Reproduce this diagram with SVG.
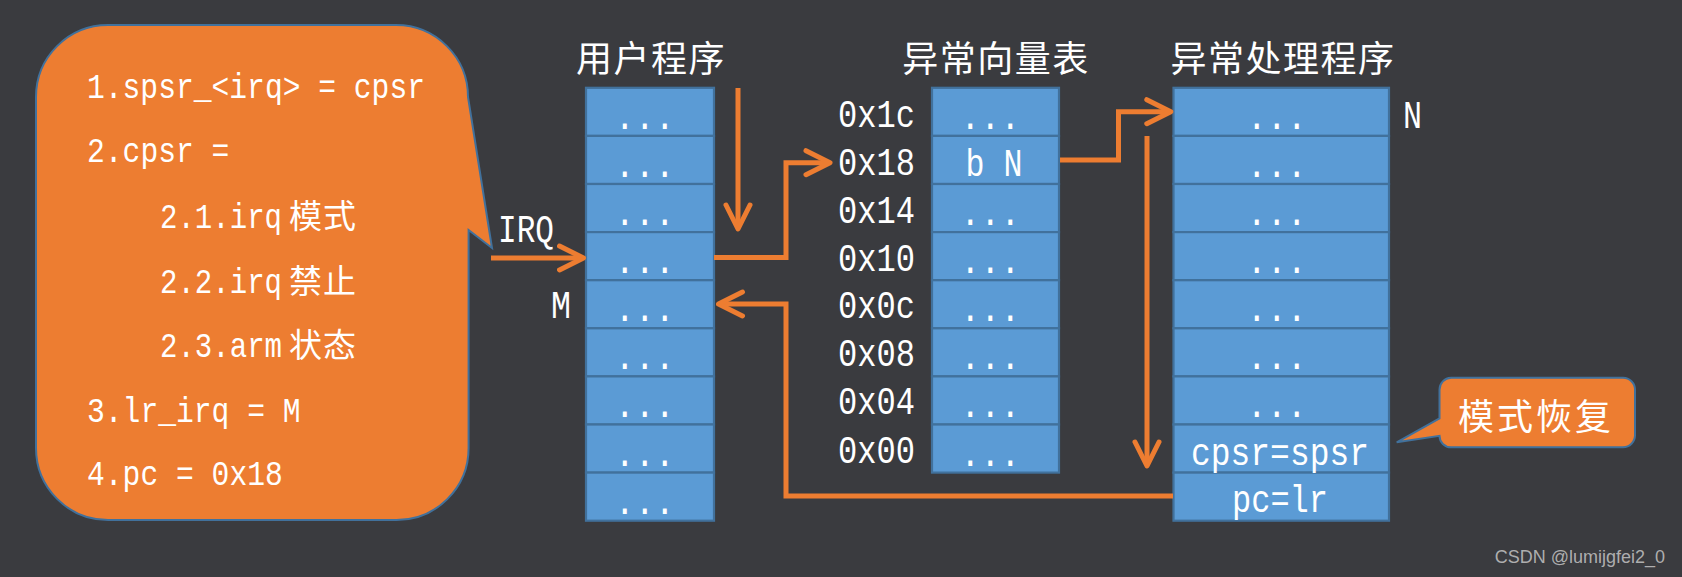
<svg xmlns="http://www.w3.org/2000/svg" width="1682" height="577" viewBox="0 0 1682 577">
<defs>
<style>
.bg{fill:#3a3b3f}
.cell{fill:#5b9bd5;stroke:#41719c;stroke-width:2.2}
.mono{font-family:"Liberation Mono","DejaVu Sans Mono",monospace;fill:#ffffff}
.b{font-size:35px}
.l{font-size:38px}
.d{font-size:36px}
.cjk{font-family:"Noto Sans CJK SC","Noto Sans",sans-serif;fill:#ffffff}
.ttl{font-size:36px;letter-spacing:1.5px}
.sub{font-size:33px;letter-spacing:1px}
.conn{fill:none;stroke:#ed7d31;stroke-width:5;stroke-linejoin:miter}
.callout{fill:#ed7d31;stroke:#41719c;stroke-width:2}
</style>
<marker id="ah" viewBox="0 0 30 30" markerWidth="30" markerHeight="30" markerUnits="userSpaceOnUse" refX="24" refY="15" orient="auto">
<path d="M3 3 L27 15 L3 27" fill="none" stroke="#ed7d31" stroke-width="5" stroke-linecap="round" stroke-linejoin="round"/>
</marker>
</defs>
<rect class="bg" x="0" y="0" width="1682" height="577"/>

<g id="bubble">
<path class="callout" d="M108 25 H396 A72 72 0 0 1 468 97 L492 248 L468.6 230 V448 A72 72 0 0 1 396 520 H108 A72 72 0 0 1 36 448 V97 A72 72 0 0 1 108 25 Z"/>
<text class="mono b" x="87" y="98" textLength="338" lengthAdjust="spacingAndGlyphs">1.spsr_&lt;irq&gt; = cpsr</text>
<text class="mono b" x="87" y="162" textLength="142.4" lengthAdjust="spacingAndGlyphs">2.cpsr =</text>
<text class="mono b" transform="translate(160 228) scale(0.83 1)">2.1.irq</text>
<text class="cjk sub" x="289" y="228">模式</text>
<text class="mono b" transform="translate(160 293) scale(0.83 1)">2.2.irq</text>
<text class="cjk sub" x="289" y="293">禁止</text>
<text class="mono b" transform="translate(160 357) scale(0.83 1)">2.3.arm</text>
<text class="cjk sub" x="289" y="357">状态</text>
<text class="mono b" x="87" y="422" textLength="213.6" lengthAdjust="spacingAndGlyphs">3.lr_irq = M</text>
<text class="mono b" x="87" y="485" textLength="195.8" lengthAdjust="spacingAndGlyphs">4.pc = 0x18</text>
</g>

<g id="user-program">
<text class="cjk ttl" x="651" y="72" text-anchor="middle">用户程序</text>
<rect class="cell" x="586" y="87.8" width="128" height="48.1"/>
<rect class="cell" x="586" y="135.9" width="128" height="48.1"/>
<rect class="cell" x="586" y="184" width="128" height="48.1"/>
<rect class="cell" x="586" y="232.1" width="128" height="48.1"/>
<rect class="cell" x="586" y="280.2" width="128" height="48.1"/>
<rect class="cell" x="586" y="328.3" width="128" height="48.1"/>
<rect class="cell" x="586" y="376.4" width="128" height="48.1"/>
<rect class="cell" x="586" y="424.5" width="128" height="48.1"/>
<rect class="cell" x="586" y="472.6" width="128" height="48.1"/>
<text class="mono d" x="614.7" y="128.8" textLength="60" lengthAdjust="spacingAndGlyphs">...</text>
<text class="mono d" x="614.7" y="176.9" textLength="60" lengthAdjust="spacingAndGlyphs">...</text>
<text class="mono d" x="614.7" y="225" textLength="60" lengthAdjust="spacingAndGlyphs">...</text>
<text class="mono d" x="614.7" y="273.1" textLength="60" lengthAdjust="spacingAndGlyphs">...</text>
<text class="mono d" x="614.7" y="321.2" textLength="60" lengthAdjust="spacingAndGlyphs">...</text>
<text class="mono d" x="614.7" y="369.3" textLength="60" lengthAdjust="spacingAndGlyphs">...</text>
<text class="mono d" x="614.7" y="417.4" textLength="60" lengthAdjust="spacingAndGlyphs">...</text>
<text class="mono d" x="614.7" y="465.5" textLength="60" lengthAdjust="spacingAndGlyphs">...</text>
<text class="mono d" x="614.7" y="513.6" textLength="60" lengthAdjust="spacingAndGlyphs">...</text>
<text class="mono l" x="498" y="241.5" textLength="56" lengthAdjust="spacingAndGlyphs">IRQ</text>
<text class="mono l" x="551" y="318.3" textLength="20" lengthAdjust="spacingAndGlyphs">M</text>
</g>

<g id="vector-table">
<text class="cjk ttl" x="996" y="72" text-anchor="middle">异常向量表</text>
<rect class="cell" x="932" y="87.8" width="127" height="48.1"/>
<rect class="cell" x="932" y="135.9" width="127" height="48.1"/>
<rect class="cell" x="932" y="184" width="127" height="48.1"/>
<rect class="cell" x="932" y="232.1" width="127" height="48.1"/>
<rect class="cell" x="932" y="280.2" width="127" height="48.1"/>
<rect class="cell" x="932" y="328.3" width="127" height="48.1"/>
<rect class="cell" x="932" y="376.4" width="127" height="48.1"/>
<rect class="cell" x="932" y="424.5" width="127" height="48.1"/>
<text class="mono d" x="960.3" y="128.8" textLength="60" lengthAdjust="spacingAndGlyphs">...</text>
<text class="mono l" x="965.5" y="175.7" textLength="57" lengthAdjust="spacingAndGlyphs">b N</text>
<text class="mono d" x="960.3" y="225" textLength="60" lengthAdjust="spacingAndGlyphs">...</text>
<text class="mono d" x="960.3" y="273.1" textLength="60" lengthAdjust="spacingAndGlyphs">...</text>
<text class="mono d" x="960.3" y="321.2" textLength="60" lengthAdjust="spacingAndGlyphs">...</text>
<text class="mono d" x="960.3" y="369.3" textLength="60" lengthAdjust="spacingAndGlyphs">...</text>
<text class="mono d" x="960.3" y="417.4" textLength="60" lengthAdjust="spacingAndGlyphs">...</text>
<text class="mono d" x="960.3" y="465.5" textLength="60" lengthAdjust="spacingAndGlyphs">...</text>
<text class="mono l" x="838" y="126.7" textLength="77" lengthAdjust="spacingAndGlyphs">0x1c</text>
<text class="mono l" x="838" y="175" textLength="77" lengthAdjust="spacingAndGlyphs">0x18</text>
<text class="mono l" x="838" y="222.7" textLength="77" lengthAdjust="spacingAndGlyphs">0x14</text>
<text class="mono l" x="838" y="270.7" textLength="77" lengthAdjust="spacingAndGlyphs">0x10</text>
<text class="mono l" x="838" y="317.5" textLength="77" lengthAdjust="spacingAndGlyphs">0x0c</text>
<text class="mono l" x="838" y="366" textLength="77" lengthAdjust="spacingAndGlyphs">0x08</text>
<text class="mono l" x="838" y="414.3" textLength="77" lengthAdjust="spacingAndGlyphs">0x04</text>
<text class="mono l" x="838" y="462.7" textLength="77" lengthAdjust="spacingAndGlyphs">0x00</text>
</g>

<g id="handler">
<text class="cjk ttl" x="1283" y="72" text-anchor="middle">异常处理程序</text>
<rect class="cell" x="1173.5" y="87.8" width="215.5" height="48.1"/>
<rect class="cell" x="1173.5" y="135.9" width="215.5" height="48.1"/>
<rect class="cell" x="1173.5" y="184" width="215.5" height="48.1"/>
<rect class="cell" x="1173.5" y="232.1" width="215.5" height="48.1"/>
<rect class="cell" x="1173.5" y="280.2" width="215.5" height="48.1"/>
<rect class="cell" x="1173.5" y="328.3" width="215.5" height="48.1"/>
<rect class="cell" x="1173.5" y="376.4" width="215.5" height="48.1"/>
<rect class="cell" x="1173.5" y="424.5" width="215.5" height="48.1"/>
<rect class="cell" x="1173.5" y="472.6" width="215.5" height="48.1"/>
<text class="mono d" x="1246.7" y="128.8" textLength="60" lengthAdjust="spacingAndGlyphs">...</text>
<text class="mono d" x="1246.7" y="176.9" textLength="60" lengthAdjust="spacingAndGlyphs">...</text>
<text class="mono d" x="1246.7" y="225" textLength="60" lengthAdjust="spacingAndGlyphs">...</text>
<text class="mono d" x="1246.7" y="273.1" textLength="60" lengthAdjust="spacingAndGlyphs">...</text>
<text class="mono d" x="1246.7" y="321.2" textLength="60" lengthAdjust="spacingAndGlyphs">...</text>
<text class="mono d" x="1246.7" y="369.3" textLength="60" lengthAdjust="spacingAndGlyphs">...</text>
<text class="mono d" x="1246.7" y="417.4" textLength="60" lengthAdjust="spacingAndGlyphs">...</text>
<text class="mono l" x="1280" y="464.5" text-anchor="middle" textLength="178" lengthAdjust="spacingAndGlyphs">cpsr=spsr</text>
<text class="mono l" x="1280" y="512.3" text-anchor="middle" textLength="96" lengthAdjust="spacingAndGlyphs">pc=lr</text>
<text class="mono l" x="1403" y="128.3" textLength="19" lengthAdjust="spacingAndGlyphs">N</text>
</g>

<g id="mode-restore">
<path class="callout" d="M1451 377.7 H1623 A12 12 0 0 1 1635 389.7 V435.3 A12 12 0 0 1 1623 447.3 H1451 A11.5 11.5 0 0 1 1439.5 435.8 L1396.7 442.3 L1439.5 418.3 V389.7 A12 12 0 0 1 1451 377.7 Z"/>
<text class="cjk" x="1536" y="430" text-anchor="middle" font-size="36" letter-spacing="3">模式恢复</text>
</g>

<g id="connectors">
<path class="conn" d="M491 258 H580.5" marker-end="url(#ah)"/>
<path class="conn" d="M738 88 V226" marker-end="url(#ah)"/>
<path class="conn" d="M714 257.5 H786 V162.7 H827" marker-end="url(#ah)"/>
<path class="conn" d="M1060 160 H1118.5 V111.7 H1167.8" marker-end="url(#ah)"/>
<path class="conn" d="M1147 136 V463" marker-end="url(#ah)"/>
<path class="conn" d="M1173 496 H786 V304 H721.5" marker-end="url(#ah)"/>
</g>

<text x="1665" y="563" text-anchor="end" font-family="Liberation Sans, Arial, sans-serif" font-size="18" fill="#c4c4c4" fill-opacity="0.85">CSDN @lumijgfei2_0</text>
</svg>
